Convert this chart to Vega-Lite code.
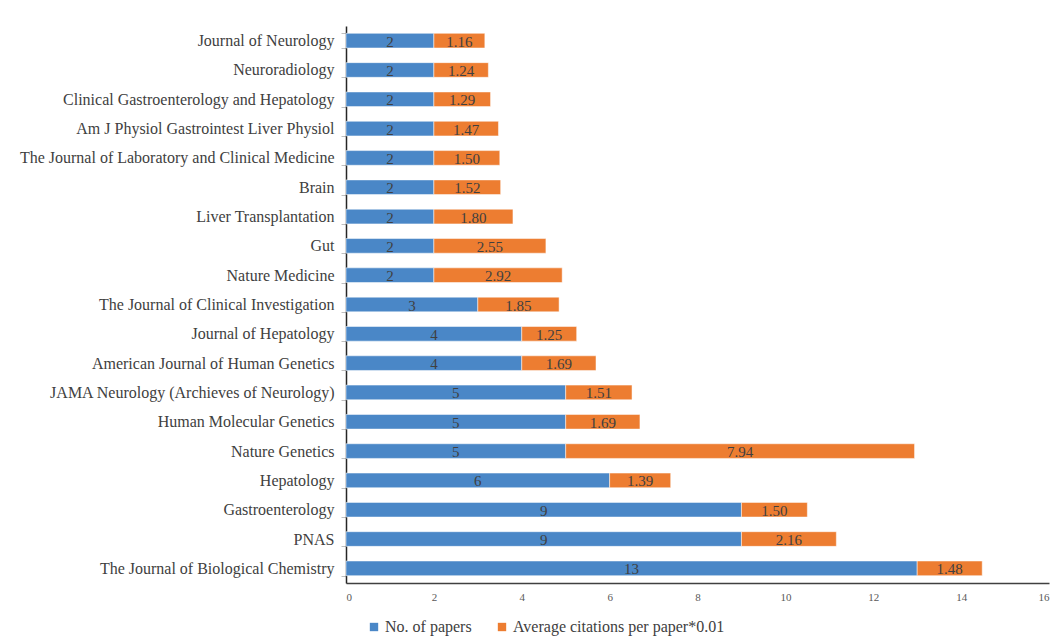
{
  "$schema": "https://vega.github.io/schema/vega-lite/v6.json",
  "width": 703,
  "height": 557,
  "autosize": {"type": "none"},
  "padding": {"left": 346, "top": 26, "right": 12, "bottom": 57},
  "background": "white",
  "config": {
    "view": {"stroke": null},
    "font": "Liberation Serif",
    "axis": {"labelFont": "Liberation Serif"},
    "legend": {"labelFont": "Liberation Serif"},
    "text": {"font": "Liberation Serif"}
  },
  "data": {
    "values": [
      {"journal": "Journal of Neurology", "papers": 2, "cites": 1.16},
      {"journal": "Neuroradiology", "papers": 2, "cites": 1.24},
      {"journal": "Clinical Gastroenterology and Hepatology", "papers": 2, "cites": 1.29},
      {"journal": "Am J Physiol Gastrointest Liver Physiol", "papers": 2, "cites": 1.47},
      {"journal": "The Journal of Laboratory and Clinical Medicine", "papers": 2, "cites": 1.50},
      {"journal": "Brain", "papers": 2, "cites": 1.52},
      {"journal": "Liver Transplantation", "papers": 2, "cites": 1.80},
      {"journal": "Gut", "papers": 2, "cites": 2.55},
      {"journal": "Nature Medicine", "papers": 2, "cites": 2.92},
      {"journal": "The Journal of Clinical Investigation", "papers": 3, "cites": 1.85},
      {"journal": "Journal of Hepatology", "papers": 4, "cites": 1.25},
      {"journal": "American Journal of Human Genetics", "papers": 4, "cites": 1.69},
      {"journal": "JAMA Neurology (Archieves of Neurology)", "papers": 5, "cites": 1.51},
      {"journal": "Human Molecular Genetics", "papers": 5, "cites": 1.69},
      {"journal": "Nature Genetics", "papers": 5, "cites": 7.94},
      {"journal": "Hepatology", "papers": 6, "cites": 1.39},
      {"journal": "Gastroenterology", "papers": 9, "cites": 1.50},
      {"journal": "PNAS", "papers": 9, "cites": 2.16},
      {"journal": "The Journal of Biological Chemistry", "papers": 13, "cites": 1.48}
    ]
  },
  "transform": [
    {"fold": ["papers", "cites"], "as": ["key", "value"]},
    {"lookup": "key", "from": {"data": {"values": [
      {"key": "papers", "series": "No. of papers"},
      {"key": "cites", "series": "Average citations per paper*0.01"}
    ]}, "key": "key", "fields": ["series"]}}
  ],
  "encoding": {
    "y": {
      "field": "journal", "type": "nominal", "sort": null,
      "scale": {"paddingInner": 0.5, "paddingOuter": 0.25},
      "axis": {
        "title": null, "labelFontSize": 16, "labelColor": "#404040", "labelPadding": 7,
        "labelLimit": 400, "domainColor": "#262626", "domainWidth": 1.5,
        "tickBand": "extent", "tickSize": 5, "tickColor": "#bfbfbf", "ticks": true
      }
    },
    "x": {
      "field": "value", "type": "quantitative", "stack": "zero",
      "scale": {"domain": [0, 16], "nice": false},
      "axis": {
        "title": null, "values": [0, 2, 4, 6, 8, 10, 12, 14, 16], "grid": false, "ticks": false,
        "labelFont": "Liberation Serif", "labelFontSize": 11, "labelColor": "#595959", "labelPadding": 8,
        "domainColor": "#404040", "domainWidth": 1.5
      }
    },
    "order": {"field": "key", "sort": "descending"}
  },
  "layer": [
    {
      "mark": {"type": "bar", "stroke": "white", "strokeWidth": 0.5},
      "encoding": {
        "color": {
          "field": "series", "type": "nominal",
          "scale": {"domain": ["No. of papers", "Average citations per paper*0.01"], "range": ["#4A87C7", "#ED7D31"]},
          "legend": {
            "title": null, "orient": "none", "direction": "horizontal",
            "legendX": 20, "legendY": 593,
            "symbolType": "square", "symbolSize": 70, "symbolStrokeWidth": 0,
            "labelFont": "Liberation Serif", "labelFontSize": 16, "labelColor": "#404040", "labelLimit": 500,
            "labelOffset": 3, "columnPadding": 22, "symbolOffset": 0
          }
        }
      }
    },
    {
      "mark": {"type": "text", "font": "Liberation Serif", "fontSize": 15, "color": "#404040", "baseline": "middle", "dy": 1},
      "encoding": {
        "x": {"field": "value", "type": "quantitative", "stack": "zero", "bandPosition": 0.5},
        "detail": {"field": "series", "type": "nominal"},
        "text": {
          "condition": {"test": "datum.key === 'papers'", "field": "value", "type": "quantitative", "format": "d"},
          "field": "value", "type": "quantitative", "format": ".2f"
        }
      }
    }
  ]
}
